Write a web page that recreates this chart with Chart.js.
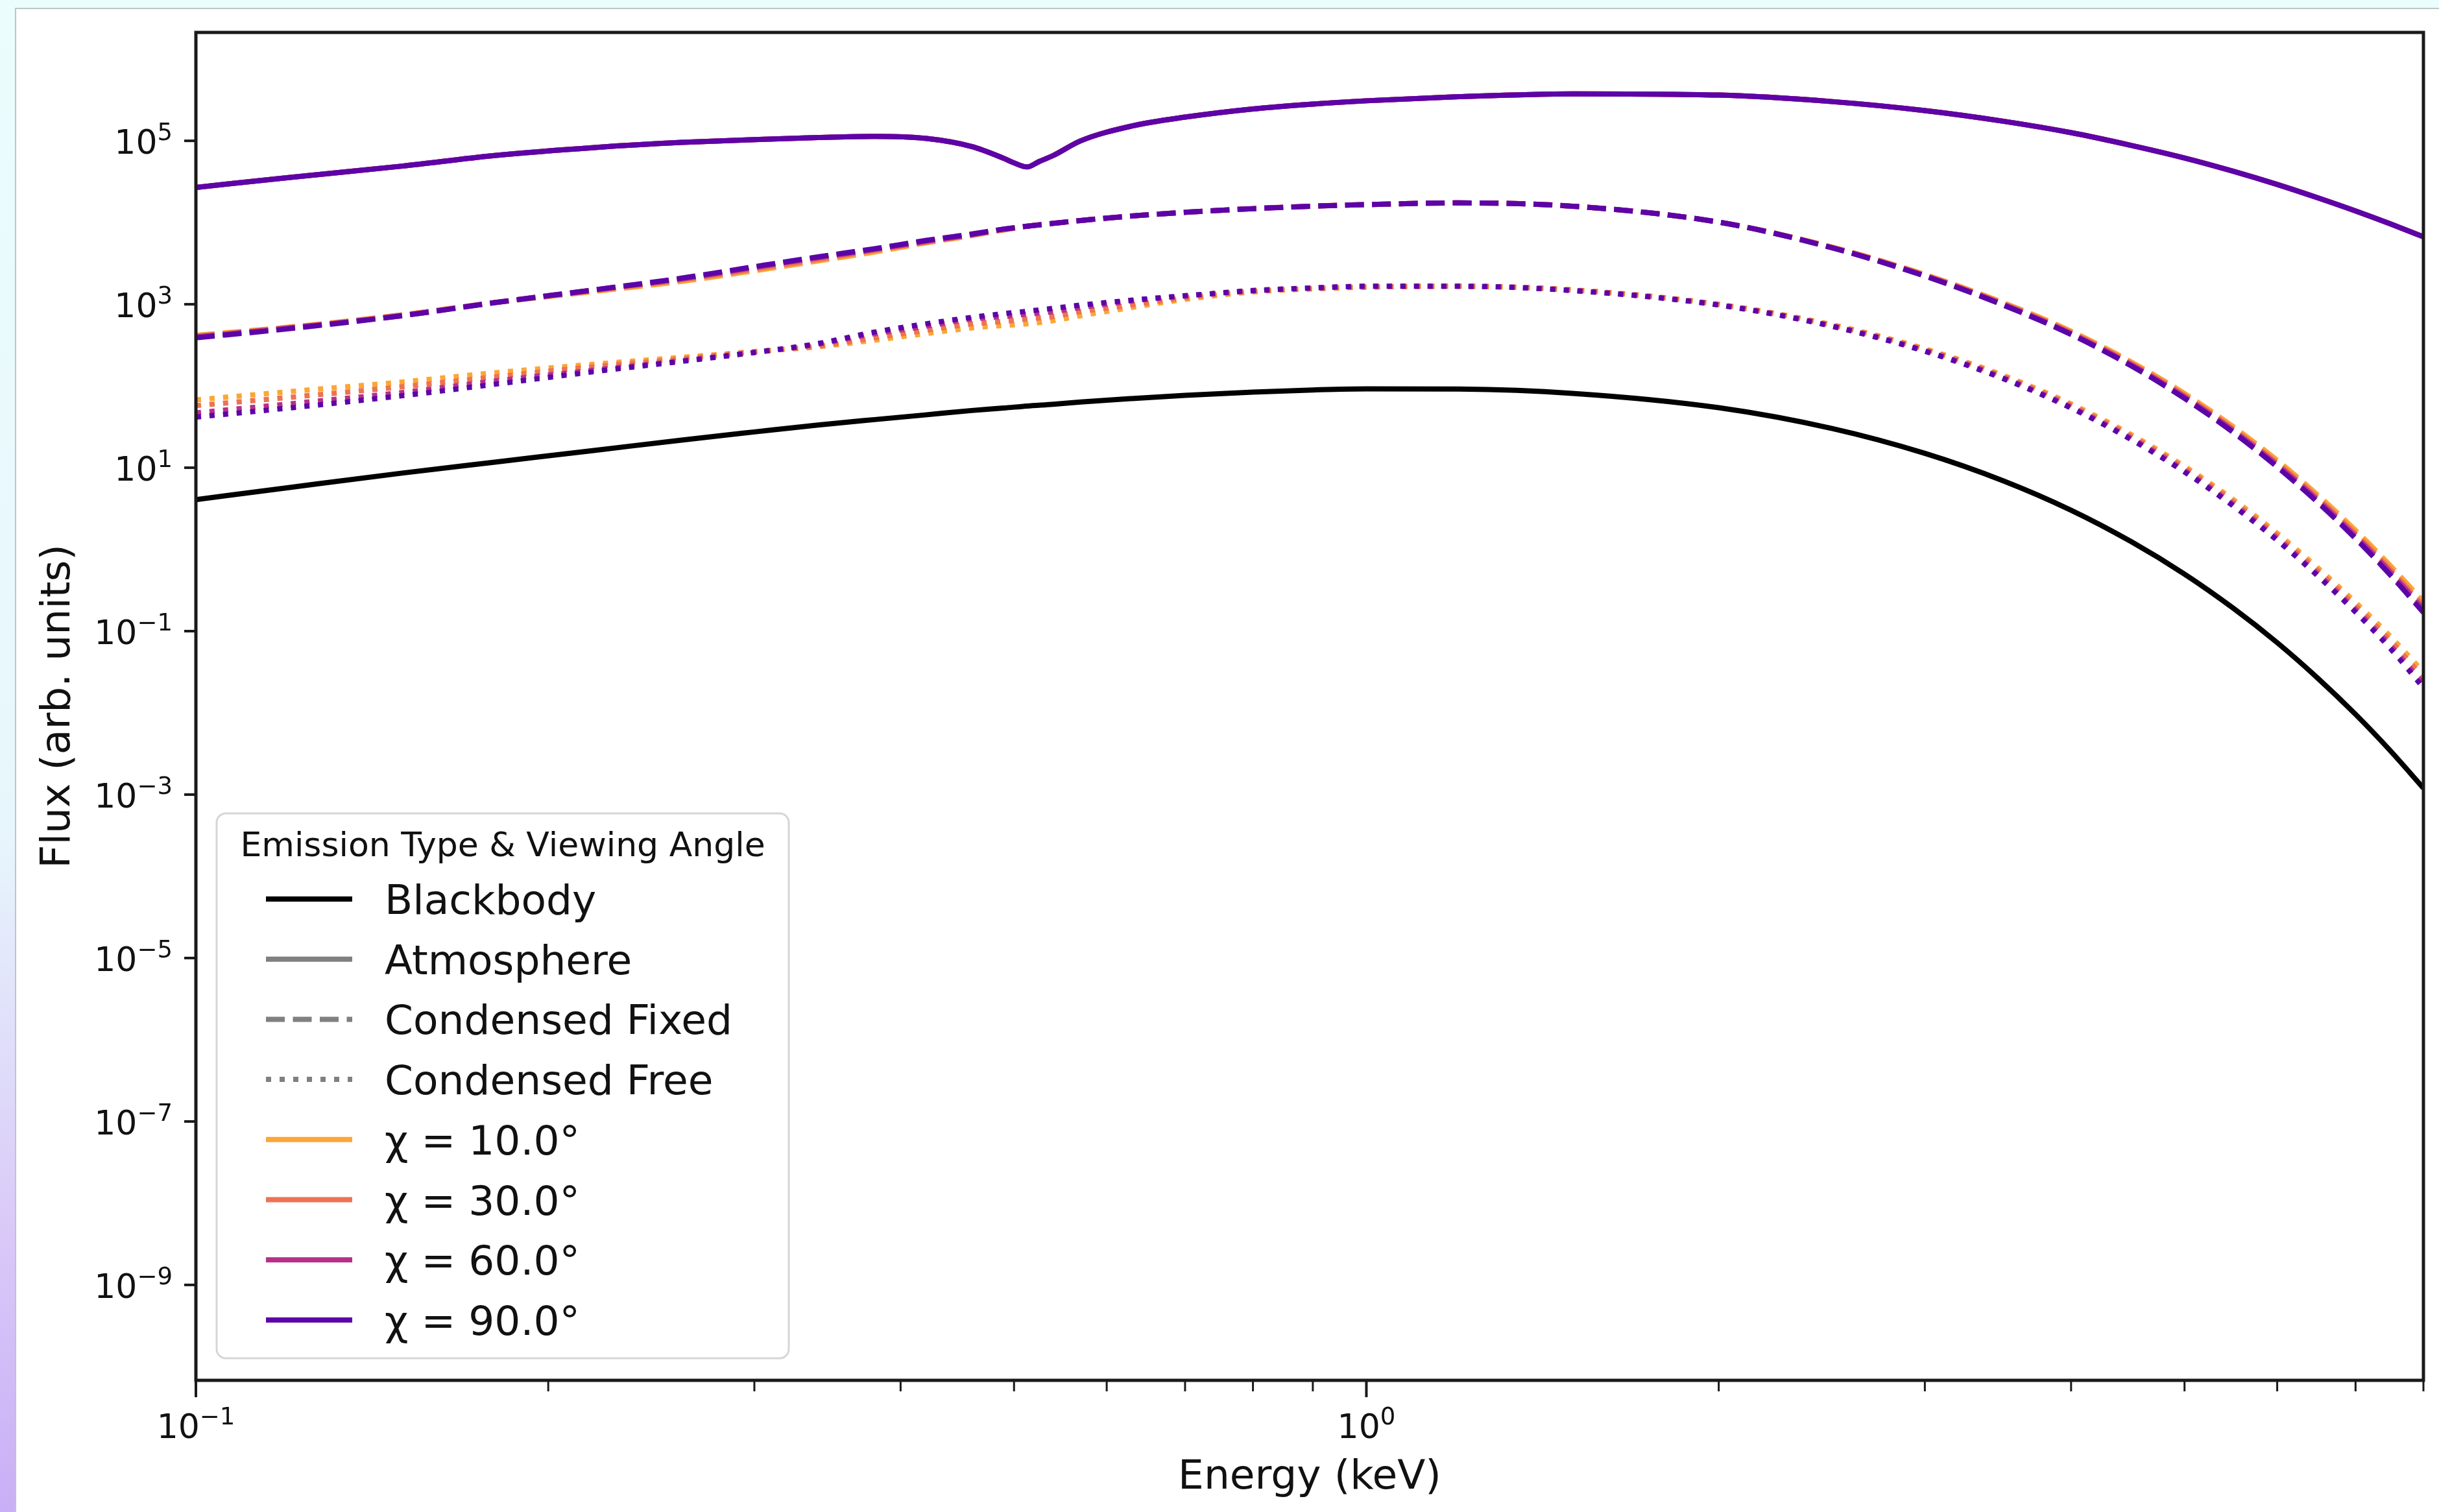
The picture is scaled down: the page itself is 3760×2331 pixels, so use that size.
<!DOCTYPE html>
<html>
<head>
<meta charset="utf-8">
<script src="https://cdn.jsdelivr.net/npm/chart.js@4.4.1/dist/chart.umd.min.js"></script>
<style>
  html, body { margin: 0; padding: 0; }
  body {
    width: 3760px; height: 2331px; overflow: hidden; position: relative;
    background: linear-gradient(to bottom, #ebfdfd 0%, #e7f6fc 55%, #d9c8f8 82%, #c9aff6 100%);
  }
  #card {
    position: absolute; left: 23px; top: 12px; width: 3800px; height: 2400px;
    background: #fff; border: 2px solid #bcc6c6; box-sizing: border-box;
  }
  #wrap { position: absolute; left: 0; top: 0; width: 3760px; height: 2331px; }
</style>
</head>
<body>
<div id="card"></div>
<div id="wrap"><canvas id="chart" width="3760" height="2331"></canvas></div>
<script>
// photon energy grid (keV)
const energy = [0.1, 0.12, 0.15, 0.18, 0.22, 0.26, 0.3, 0.34, 0.38, 0.42, 0.46, 0.49, 0.513, 0.54, 0.57,
  0.63, 0.7, 0.8, 0.9, 1.0, 1.2, 1.5, 2.0, 2.5, 3.0, 3.5, 4.0, 4.5, 5.0, 5.5, 6.0, 6.5, 7.0, 7.5, 8.0];

const blackbody = [4.07, 5.71, 8.59, 11.7, 16.4, 21.8, 27.4, 33.3, 38.8, 44.3, 50.1, 53.7, 56.9, 59.8, 63.7,
  70.1, 76.7, 84.3, 89.5, 92.3, 91.6, 81.3, 54.3, 30.2, 15.0, 6.92, 3.02, 1.25, 0.499, 0.192, 0.0723, 0.0265, 0.00959, 0.00341, 0.00120];

// atmosphere: own grid, extra points around the absorption dip; identical for all angles
const atmEnergy = [0.1, 0.12, 0.15, 0.18, 0.22, 0.26, 0.3, 0.34, 0.38, 0.42, 0.46, 0.49, 0.5, 0.513, 0.525, 0.54, 0.57,
  0.63, 0.7, 0.8, 0.9, 1.0, 1.2, 1.5, 2.0, 2.5, 3.0, 3.5, 4.0, 4.5, 5.0, 5.5, 6.0, 6.5, 7.0, 7.5, 8.0];
const atmosphere = [26900, 35500, 49000, 66100, 83200, 95500, 103500, 109600, 113500, 107200, 85100, 61000, 53700, 47900, 55600, 66100, 100000,
  151400, 195000, 245500, 281800, 309000, 346700, 375800, 363100, 302000, 234400, 173800, 125900, 88100, 61700, 42560, 29240, 20040, 13840, 9594, 6683];

const fixed10 = [417, 525, 741, 1047, 1445, 1905, 2570, 3388, 4365, 5623, 6918, 8128, 9016, 9772, 10590,
  12020, 13340, 14790, 15850, 16600, 17380, 15850, 10120, 5012, 2317, 1047, 468, 198, 80.9, 31.9, 12.3, 4.61, 1.71, 0.628, 0.228];
const fixed30 = [407, 513, 741, 1047, 1479, 1995, 2692, 3548, 4571, 5754, 7079, 8128, 9016, 9772, 10590,
  12020, 13340, 14790, 15850, 16600, 17380, 15850, 10120, 4966, 2275, 1019, 451, 189, 76.6, 29.9, 11.4, 4.25, 1.56, 0.565, 0.202];
const fixed60 = [398, 513, 724, 1047, 1514, 2042, 2818, 3715, 4677, 5888, 7079, 8318, 9016, 9772, 10590,
  12020, 13340, 14790, 15850, 16600, 17380, 15850, 10120, 4932, 2244, 998, 439, 183, 73.5, 28.5, 10.8, 3.99, 1.45, 0.522, 0.185];
const fixed90 = [389, 501, 724, 1047, 1514, 2089, 2884, 3802, 4786, 6026, 7244, 8318, 9016, 9772, 10590,
  12020, 13340, 14790, 15850, 16600, 17380, 15850, 10120, 4898, 2213, 977, 427, 177, 70.5, 27.2, 10.2, 3.75, 1.36, 0.482, 0.169];

const free10 = [67.6, 85.1, 112, 145, 186, 224, 263, 302, 363, 437, 513, 550, 575, 631, 724,
  912, 1148, 1413, 1549, 1622, 1660, 1503, 1000, 562, 285, 135, 60.3, 25.5, 10.4, 4.11, 1.58, 0.594, 0.225, 0.0857, 0.0315];
const free30 = [57.5, 72.4, 97.7, 129, 174, 214, 263, 309, 389, 479, 575, 617, 661, 708, 813,
  977, 1202, 1445, 1549, 1622, 1660, 1493, 993, 553, 279, 131, 57.9, 24.3, 9.86, 3.85, 1.47, 0.548, 0.204, 0.0759, 0.0270];
const free60 = [46.8, 60.3, 83.2, 115, 158, 204, 257, 324, 437, 537, 661, 708, 759, 813, 912,
  1096, 1259, 1479, 1585, 1660, 1660, 1479, 984, 543, 271, 126, 55.3, 23.0, 9.25, 3.58, 1.36, 0.500, 0.183, 0.0661, 0.0226];
const free90 = [41.7, 53.7, 75.9, 105, 151, 200, 257, 331, 457, 575, 692, 768, 822, 891, 977,
  1122, 1274, 1462, 1585, 1660, 1660, 1469, 977, 537, 266, 123, 53.7, 22.2, 8.87, 3.42, 1.29, 0.472, 0.171, 0.0607, 0.0203];

const angleLabels = ['χ = 10.0°', 'χ = 30.0°', 'χ = 60.0°', 'χ = 90.0°'];
const angleColors = ['#fca636', '#ec7353', '#b6308b', '#5c04a8'];
const fixedByAngle = [fixed10, fixed30, fixed60, fixed90];
const freeByAngle = [free10, free30, free60, free90];

// axes
const xMin = 0.1, xMax = 8;
const yMin = 6.8e-11, yMax = 2.12e6;
const yTickValues = [1e-9, 1e-7, 1e-5, 1e-3, 1e-1, 1e1, 1e3, 1e5];
const yTickExps = [-9, -7, -5, -3, -1, 1, 3, 5];
const xTickValues = [0.1, 1];
const xTickExps = [-1, 0];
const xMinorTicks = [0.2, 0.3, 0.4, 0.5, 0.6, 0.7, 0.8, 0.9, 2, 3, 4, 5, 6, 7, 8];

const FONT = '"DejaVu Sans", "Liberation Sans", sans-serif';
const LW = 8;
const fixedDash = [29, 12.5];
const freeDash = [8, 13];
const textColor = '#111';

const pts = (xs, vals) => xs.map((e, i) => ({ x: e, y: vals[i] }));

const datasets = [];
datasets.push({ label: 'Blackbody', data: pts(energy, blackbody), borderColor: '#000000', borderDash: [], order: 0 });
angleLabels.forEach((lab, k) => {
  const ord = 3 - k; // 90 deg ends up on top
  datasets.push({ label: 'Atmosphere ' + lab, data: pts(atmEnergy, atmosphere), borderColor: angleColors[k], borderDash: [], order: ord });
  datasets.push({ label: 'Condensed Fixed ' + lab, data: pts(energy, fixedByAngle[k]), borderColor: angleColors[k], borderDash: fixedDash, order: ord });
  datasets.push({ label: 'Condensed Free ' + lab, data: pts(energy, freeByAngle[k]), borderColor: angleColors[k], borderDash: freeDash, order: ord });
});
datasets.forEach(d => Object.assign(d, {
  borderWidth: LW, pointRadius: 0, fill: false,
  cubicInterpolationMode: 'monotone',
  borderCapStyle: 'butt', borderJoinStyle: 'round'
}));

const legendEntries = [
  { label: 'Blackbody', color: '#000000', dash: [] },
  { label: 'Atmosphere', color: '#808080', dash: [] },
  { label: 'Condensed Fixed', color: '#808080', dash: fixedDash },
  { label: 'Condensed Free', color: '#808080', dash: freeDash }
].concat(angleLabels.map((l, k) => ({ label: l, color: angleColors[k], dash: [] })));

function drawPow(ctx, exp, x, baseY, align) {
  const base = '10';
  const sup = exp < 0 ? '\u2212' + (-exp) : String(exp);
  ctx.font = '52px ' + FONT;
  const wb = ctx.measureText(base).width;
  ctx.font = '37px ' + FONT;
  const ws = ctx.measureText(sup).width;
  const w = wb + ws;
  const x0 = align === 'right' ? x - w : x - w / 2;
  ctx.textAlign = 'left';
  ctx.textBaseline = 'alphabetic';
  ctx.font = '52px ' + FONT;
  ctx.fillText(base, x0, baseY);
  ctx.font = '37px ' + FONT;
  ctx.fillText(sup, x0 + wb, baseY - 21);
}

const axesDecor = {
  id: 'axesDecor',
  afterDatasetsDraw(chart) {
    const { ctx, chartArea: a, scales } = chart;
    const xs = scales.x, ys = scales.y;
    ctx.save();
    ctx.strokeStyle = '#1a1a1a';
    ctx.fillStyle = textColor;
    ctx.lineCap = 'butt';

    // y ticks + labels
    ctx.lineWidth = 4;
    yTickValues.forEach((v, i) => {
      const y = ys.getPixelForValue(v);
      ctx.beginPath(); ctx.moveTo(a.left - 18, y); ctx.lineTo(a.left, y); ctx.stroke();
      drawPow(ctx, yTickExps[i], a.left - 36, y + 20, 'right');
    });

    // x major ticks + labels
    xTickValues.forEach((v, i) => {
      const x = xs.getPixelForValue(v);
      ctx.lineWidth = 4;
      ctx.beginPath(); ctx.moveTo(x, a.bottom); ctx.lineTo(x, a.bottom + 26); ctx.stroke();
      drawPow(ctx, xTickExps[i], x, 2217, 'center');
    });
    // x minor ticks
    ctx.lineWidth = 3;
    xMinorTicks.forEach(v => {
      const x = xs.getPixelForValue(v);
      ctx.beginPath(); ctx.moveTo(x, a.bottom); ctx.lineTo(x, a.bottom + 17); ctx.stroke();
    });

    // spines
    ctx.lineWidth = 5;
    ctx.strokeRect(a.left, a.top, a.right - a.left, a.bottom - a.top);

    // axis titles
    ctx.font = '63px ' + FONT;
    ctx.textAlign = 'center';
    ctx.textBaseline = 'alphabetic';
    ctx.fillText('Energy (keV)', (a.left + a.right) / 2, 2295);
    ctx.save();
    ctx.translate(107, (a.top + a.bottom) / 2);
    ctx.rotate(-Math.PI / 2);
    ctx.fillText('Flux (arb. units)', 0, 0);
    ctx.restore();
    ctx.restore();
  },
  afterDraw(chart) {
    const ctx = chart.ctx;
    ctx.save();
    // legend frame
    const bx = 334, by = 1254, bw = 882, bh = 840, r = 14;
    ctx.beginPath();
    ctx.roundRect(bx, by, bw, bh, r);
    ctx.fillStyle = 'rgba(255,255,255,0.8)';
    ctx.fill();
    ctx.lineWidth = 3;
    ctx.strokeStyle = '#d6d6d6';
    ctx.stroke();

    ctx.fillStyle = textColor;
    ctx.textAlign = 'center';
    ctx.textBaseline = 'alphabetic';
    ctx.font = '52px ' + FONT;
    ctx.fillText('Emission Type & Viewing Angle', bx + bw / 2, 1320);

    ctx.textAlign = 'left';
    ctx.font = '63px ' + FONT;
    legendEntries.forEach((e, i) => {
      const y = 1386 + i * 92.7;
      ctx.beginPath();
      ctx.setLineDash(e.dash);
      ctx.strokeStyle = e.color;
      ctx.lineWidth = LW;
      ctx.lineCap = 'butt';
      ctx.moveTo(410, y); ctx.lineTo(543, y);
      ctx.stroke();
      ctx.setLineDash([]);
      ctx.fillStyle = textColor;
      ctx.fillText(e.label, 593, y + 23);
    });
    ctx.restore();
  }
};

new Chart(document.getElementById('chart').getContext('2d'), {
  type: 'line',
  data: { datasets },
  options: {
    responsive: false,
    devicePixelRatio: 1,
    animation: false,
    layout: { padding: { left: 302, right: 24, top: 50, bottom: 203 } },
    plugins: { legend: { display: false }, tooltip: { enabled: false }, title: { display: false } },
    scales: {
      x: { type: 'logarithmic', min: xMin, max: xMax, display: false },
      y: { type: 'logarithmic', min: yMin, max: yMax, display: false }
    }
  },
  plugins: [axesDecor]
});
</script>
</body>
</html>
